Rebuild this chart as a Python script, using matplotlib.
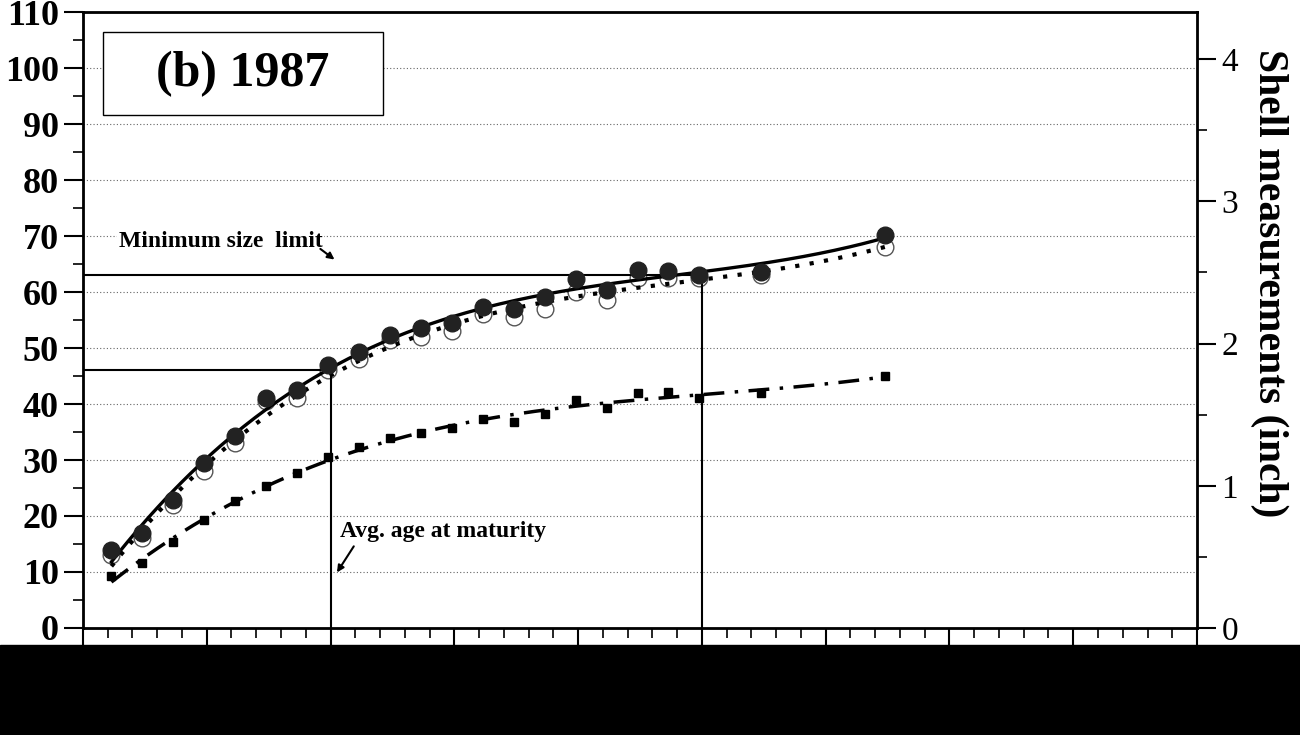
import numpy as np
import matplotlib.pyplot as plt
from matplotlib.ticker import MultipleLocator

plt.rcParams['font.family'] = ['Liberation Serif', 'DejaVu Serif']

# Age (x) and shell sizes in mm
age = [2.3, 4.8, 7.3, 9.8, 12.3, 14.8, 17.3, 19.8, 22.3, 24.8, 27.3, 29.8,
       32.3, 34.8, 37.3, 39.8, 42.3, 44.8, 47.3, 49.8, 54.8, 64.8]
size_filled = [14.0, 16.9, 22.9, 29.4, 34.2, 41.0, 42.5, 46.9, 49.3, 52.3, 53.5, 54.4,
               57.3, 57.0, 59.1, 62.4, 60.3, 63.9, 63.7, 63.0, 63.5, 70.2]
size_open = [13.0, 16.0, 22.0, 28.0, 33.0, 40.5, 41.0, 46.0, 48.0, 51.5, 52.0, 53.0,
             56.0, 55.5, 57.0, 60.0, 58.5, 62.5, 62.5, 62.5, 63.0, 68.0]
size_square = [9.2, 11.6, 15.4, 19.3, 22.6, 25.3, 27.6, 30.6, 32.4, 33.9, 34.8, 35.7,
               37.4, 36.8, 38.3, 40.7, 39.2, 41.9, 42.2, 41.0, 42.0, 45.0]

min_size = 63
mature_size = 46
mature_age = 20
limit_age = 50

fig = plt.figure(figsize=(13, 7.35), dpi=100)
ax = fig.add_axes([0.0638, 0.1456, 0.857, 0.838])

xs = np.linspace(age[0], age[-1], 200)
for y, ls, mk, mfc, lw in [(size_filled, '-', 'o', 'black', 2.4),
                           (size_open, (0, (1, 2.5)), 'o', 'white', 3),
                           (size_square, (0, (6, 3, 1, 3)), 's', 'black', 2.5)]:
    fit = np.polyfit(age, y, 3)
    ax.plot(xs, np.polyval(fit, xs), color='black', linestyle=ls, lw=lw, zorder=3)
    if mfc == 'white':
        ax.plot(age, y, mk, mfc='white', mec='#555555', ms=12, mew=1, zorder=2)
    elif mk == 's':
        ax.plot(age, y, mk, color='black', ms=6, zorder=4)
    else:
        ax.plot(age, y, mk, color='#222222', ms=12, zorder=4)

# reference lines
ax.plot([0, limit_age], [min_size, min_size], color='black', lw=1.5)
ax.plot([0, mature_age], [mature_size, mature_size], color='black', lw=1.5)
ax.plot([mature_age, mature_age], [0, mature_size], color='black', lw=1.5)
ax.plot([limit_age, limit_age], [0, min_size], color='black', lw=1.5)

ax.text(2.9, 69, 'Minimum size  limit', fontsize=17, fontweight='bold', va='center',
        bbox=dict(fc='white', ec='none', pad=1))
ax.annotate('', xy=(20.5, 65.5), xytext=(19, 68),
            arrowprops=dict(arrowstyle='-|>', color='black', lw=1.5))
ax.text(20.8, 17.3, 'Avg. age at maturity', fontsize=17, fontweight='bold', va='center',
        bbox=dict(fc='white', ec='none', pad=1))
ax.annotate('', xy=(20.4, 9.5), xytext=(22, 15),
            arrowprops=dict(arrowstyle='-|>', color='black', lw=1.5))

ax.add_patch(plt.Rectangle((1.6, 91.6), 22.6, 14.8, fc='white', ec='black', lw=1, zorder=5))
ax.text(12.9, 99, '(b) 1987', fontsize=36, fontweight='bold', ha='center', va='center', zorder=6)

ax.set_xlim(0, 90)
ax.set_ylim(0, 110)
ax.xaxis.set_major_locator(MultipleLocator(10))
ax.xaxis.set_minor_locator(MultipleLocator(2))
ax.set_xticklabels([])
ax.yaxis.set_major_locator(MultipleLocator(10))
ax.yaxis.set_minor_locator(MultipleLocator(5))
ax.grid(axis='y', which='major', linestyle=(0, (1, 2)), color='#666666', lw=0.8)
ax.tick_params(axis='both', which='major', direction='out', length=14, width=1.5, labelsize=26)
ax.tick_params(axis='both', which='minor', direction='out', length=7, width=1.2)
for lab in ax.get_yticklabels():
    lab.set_fontweight('bold')
for s in ax.spines.values():
    s.set_linewidth(2)

ax2 = ax.twinx()
ax2.set_ylim(0, 110 / 25.4)
ax2.yaxis.set_major_locator(MultipleLocator(1))
ax2.yaxis.set_minor_locator(MultipleLocator(0.5))
ax2.tick_params(axis='y', which='major', direction='out', length=14, width=1.5, labelsize=24)
ax2.tick_params(axis='y', which='minor', direction='out', length=7, width=1.2)
ax2.set_ylabel('Shell measurements (inch)', fontsize=30, fontweight='bold', rotation=-90,
               labelpad=36, y=0.56)

# bottom band of the screenshot
fig.patches.append(plt.Rectangle((0, 0), 1, 0.122, transform=fig.transFigure,
                                 color='black', zorder=10))

fig.savefig('out.png', dpi=100)
